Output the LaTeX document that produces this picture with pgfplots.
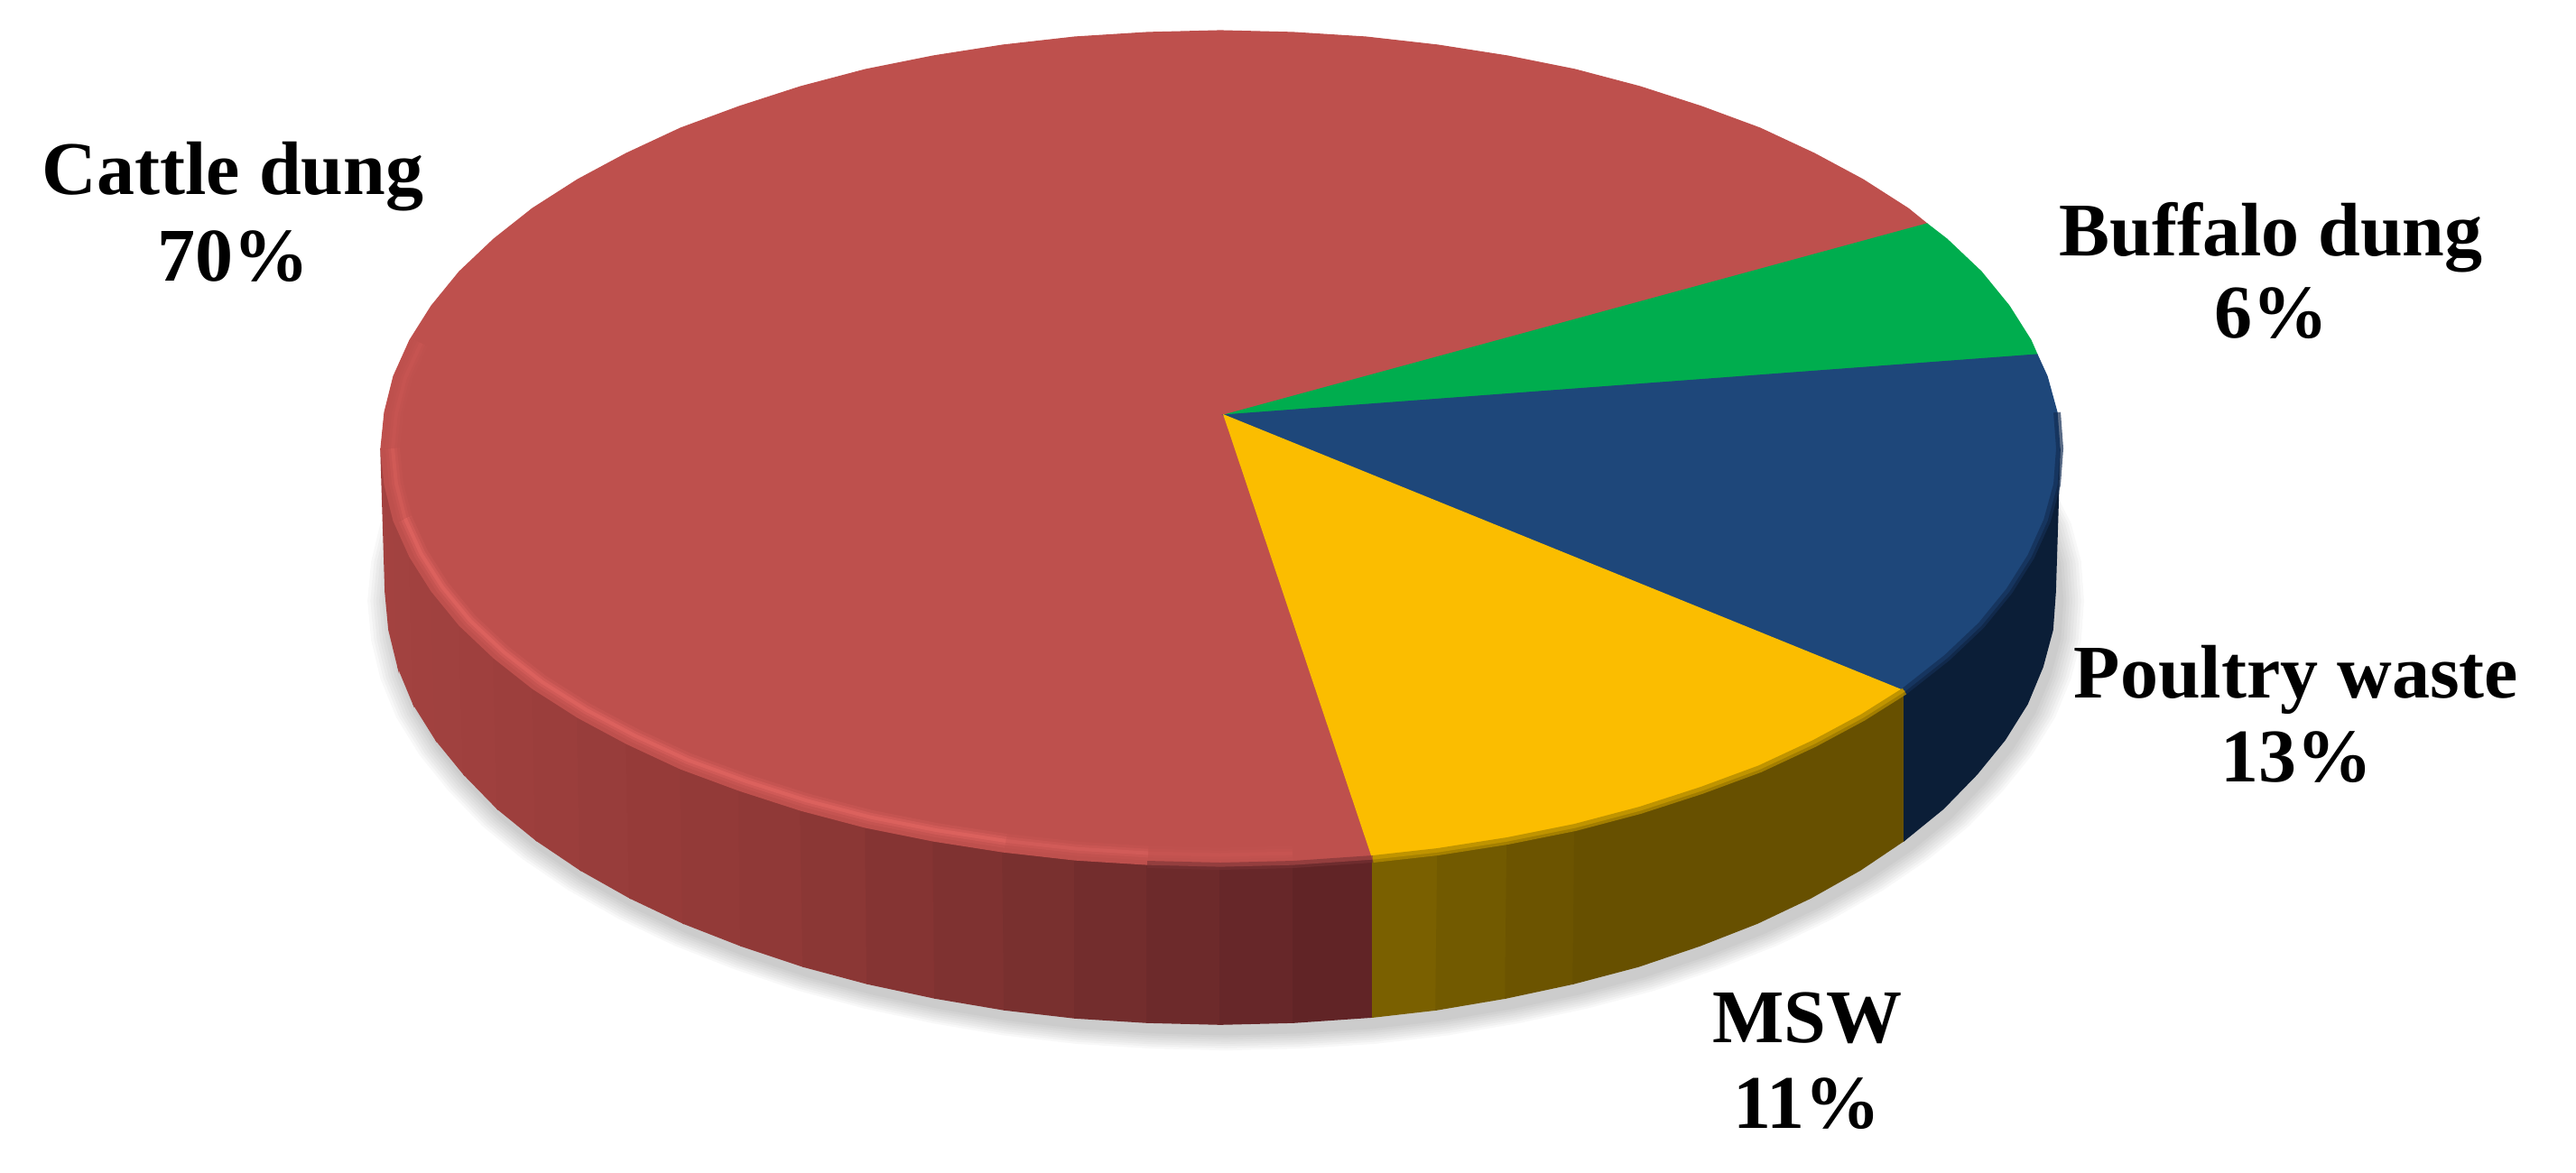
\documentclass[border=0pt]{standalone}
\usepackage{fontspec}
\setmainfont{Liberation Serif}
\usepackage{pgfplots}
\usepackage{pgfplotstable}
\pgfplotsset{compat=1.18}
\definecolor{cRed}{HTML}{BE504D}
\definecolor{cGreen}{HTML}{00AD4E}
\definecolor{cBlue}{HTML}{1E477A}
\definecolor{cYellow}{HTML}{FBBD00}
\definecolor{cOlive}{HTML}{675000}
\definecolor{cNavy}{HTML}{0B1E37}
\definecolor{cHigh}{HTML}{EA6A66}
\pgfplotstableread{
x y
427 656
431 698
441 739
458 780
483 820
514 858
551 896
594 931
643 964
698 995
757 1023
821 1048
890 1071
961 1090
1036 1106
1113 1119
1191 1128
1271 1133
1352 1135
1433 1133
1513 1128
1591 1119
1668 1106
1743 1090
1815 1071
1883 1048
1947 1023
2006 995
2061 964
2110 931
2153 896
2190 858
2221 820
2246 780
2263 739
2274 698
2277 656
2274 614
2263 573
2221 492
2110 381
1815 241
1352 177
890 241
594 381
483 492
441 573
431 614
}\shadowtab
\newcommand\strip[4]{\addplot[fill={rgb,255:red,#1;green,#2;blue,#3},draw={rgb,255:red,#1;green,#2;blue,#3},line width=.4pt] coordinates {#4} -- cycle;}
\newcommand\hl[2]{%
 \addplot[cHigh,line width=4pt,opacity=.18*#1,x filter/.expression={1352+(x-1352)*.986},y filter/.expression={497+(y-497)*.973}] coordinates {#2};
 \addplot[cHigh,line width=2.4pt,opacity=.3*#1,x filter/.expression={1352+(x-1352)*.986},y filter/.expression={497+(y-497)*.973}] coordinates {#2};
 \addplot[cHigh,line width=1pt,opacity=.45*#1,x filter/.expression={1352+(x-1352)*.986},y filter/.expression={497+(y-497)*.973}] coordinates {#2};
}
\newcommand\lab[4]{\node[font=\fontsize{21}{24}\selectfont\bfseries,anchor=base,inner sep=0pt] at (axis cs:#1,#2) {#4};}
\begin{document}
\begin{tikzpicture}
\begin{axis}[
  scale only axis,width=713.5pt,height=324.75pt,
  xmin=0,xmax=2854,ymin=0,ymax=1299,y dir=reverse,
  hide axis,clip=false,no markers]
\path (axis cs:0,0) rectangle (axis cs:2854,1299);
% soft shadow
\pgfplotsinvokeforeach{1,...,8}{
 \addplot[fill=black,draw=none,fill opacity=.028,
   x filter/.expression={1358+(x-1352)*(1+#1*.0035)},
   y filter/.expression={666+(y-656)*(1+#1*.005)}] table[x=x,y=y]{\shadowtab} -- cycle;
}
% side wall: cattle dung
\strip{163}{66}{64}{(422,497)(426,537)(431,698)(427,656)}
\strip{163}{66}{64}{(426,537)(436,577)(441,739)(431,698)}
\strip{162}{66}{64}{(436,577)(454,617)(458,780)(441,739)}
\strip{161}{65}{63}{(454,617)(478,655)(483,820)(458,780)}
\strip{160}{65}{63}{(478,655)(509,693)(514,858)(483,820)}
\strip{159}{64}{62}{(509,693)(547,729)(551,896)(514,858)}
\strip{157}{63}{61}{(547,729)(590,763)(594,931)(551,896)}
\strip{155}{62}{60}{(590,763)(640,795)(643,964)(594,931)}
\strip{152}{61}{59}{(640,795)(694,824)(698,995)(643,964)}
\strip{150}{59}{57}{(694,824)(754,852)(757,1023)(698,995)}
\strip{147}{58}{56}{(754,852)(819,876)(821,1048)(757,1023)}
\strip{144}{57}{55}{(819,876)(887,898)(890,1071)(821,1048)}
\strip{139}{55}{53}{(887,898)(959,917)(961,1090)(890,1071)}
\strip{133}{52}{51}{(959,917)(1034,932)(1036,1106)(961,1090)}
\strip{127}{50}{49}{(1034,932)(1111,944)(1113,1119)(1036,1106)}
\strip{121}{48}{47}{(1111,944)(1191,953)(1191,1128)(1113,1119)}
\strip{115}{45}{45}{(1191,953)(1271,958)(1271,1133)(1191,1128)}
\strip{109}{42}{43}{(1271,958)(1352,960)(1352,1135)(1271,1133)}
\strip{103}{39}{41}{(1352,960)(1433,958)(1433,1133)(1352,1135)}
\strip{97}{36}{38}{(1433,958)(1521,952)(1521,1127)(1433,1133)}
% side wall: MSW
\strip{122}{96}{0}{(1521,952)(1593,944)(1591,1119)(1521,1127)}
\strip{114}{90}{0}{(1593,944)(1670,932)(1668,1106)(1591,1119)}
\strip{108}{84}{0}{(1670,932)(1745,917)(1743,1090)(1668,1106)}
\addplot[fill=cOlive,draw=cOlive,line width=.4pt] coordinates {
 (1745,917)(1817,898)(1885,876)(1950,852)(2010,824)(2064,795)(2110,766)
 (2110,931)(2061,964)(2006,995)(1947,1023)(1883,1048)(1815,1071)(1743,1090)} -- cycle;
% side wall: poultry waste
\addplot[fill=cNavy,draw=cNavy,line width=.4pt] coordinates {
 (2110,766)(2157,729)(2195,693)(2226,655)(2250,617)(2268,577)(2279,537)(2282,497)
 (2277,656)(2274,698)(2263,739)(2246,780)(2221,820)(2190,858)(2153,896)(2110,931)} -- cycle;
% top faces
\addplot[fill=cRed,draw=cRed,line width=.3pt] coordinates {
 (1356,460)(1521,952)(1433,958)(1352,960)(1271,958)(1191,953)(1111,944)(1034,932)(959,917)(887,898)
 (819,876)(754,852)(694,824)(640,795)(590,763)(547,729)(509,693)(478,655)(454,617)(436,577)(426,537)(422,497)
 (426,457)(436,417)(454,377)(478,339)(509,301)(547,265)(590,231)(640,199)(694,170)(754,142)(819,118)(887,96)
 (959,77)(1034,62)(1111,50)(1191,41)(1271,36)(1352,34)(1433,36)(1513,41)(1593,50)(1670,62)(1745,77)(1817,96)
 (1885,118)(1950,142)(2010,170)(2064,199)(2114,231)(2135,248)} -- cycle;
\addplot[fill=cGreen,draw=cGreen,line width=.3pt] coordinates {
 (1356,460)(2135,248)(2157,265)(2195,301)(2226,339)(2250,377)(2257,393)} -- cycle;
\addplot[fill=cBlue,draw=cBlue,line width=.3pt] coordinates {
 (1356,460)(2257,393)(2268,417)(2279,457)(2282,497)(2279,537)(2268,577)(2250,617)(2226,655)(2195,693)(2157,729)(2110,766)} -- cycle;
\addplot[fill=cYellow,draw=cYellow,line width=.3pt] coordinates {
 (1356,460)(2110,766)(2064,795)(2010,824)(1950,852)(1885,876)(1817,898)(1745,917)(1670,932)(1593,944)(1521,952)} -- cycle;
% bevel softening along the rim
\addplot[color={rgb,255:red,20;green,46;blue,84},line width=2pt,opacity=.7] coordinates {
 (2279,457)(2282,497)(2279,537)(2268,577)(2250,617)(2226,655)(2195,693)(2157,729)(2110,766)};
\addplot[color={rgb,255:red,178;green,138;blue,0},line width=2pt,opacity=.8] coordinates {
 (2110,766)(2064,795)(2010,824)(1950,852)(1885,876)(1817,898)(1745,917)(1670,932)(1593,944)(1521,952)};
\addplot[color={rgb,255:red,120;green,50;blue,52},line width=2pt,opacity=.6] coordinates {
 (1521,952)(1433,958)(1352,960)(1271,958)};
% bevel highlight on the large slice
\hl{.25}{(454,377)(436,417)(426,457)(422,497)}
\hl{.55}{(422,497)(426,537)(436,577)}
\hl{1}{(436,577)(454,617)(478,655)(509,693)(547,729)(590,763)(640,795)(694,824)(754,852)(819,876)(887,898)(959,917)(1034,932)(1111,944)}
\hl{.6}{(1111,944)(1191,953)(1271,958)}
\hl{.25}{(1271,958)(1352,960)(1433,958)}
% labels
\lab{258}{215}{}{Cattle dung}
\lab{258}{311}{}{70\%}
\lab{2516}{283}{}{Buffalo dung}
\lab{2516}{374}{}{6\%}
\lab{2544}{773}{}{Poultry waste}
\lab{2544}{866}{}{13\%}
\lab{2002}{1155}{}{MSW}
\lab{2002}{1250}{}{11\%}
\end{axis}
\end{tikzpicture}
\end{document}
